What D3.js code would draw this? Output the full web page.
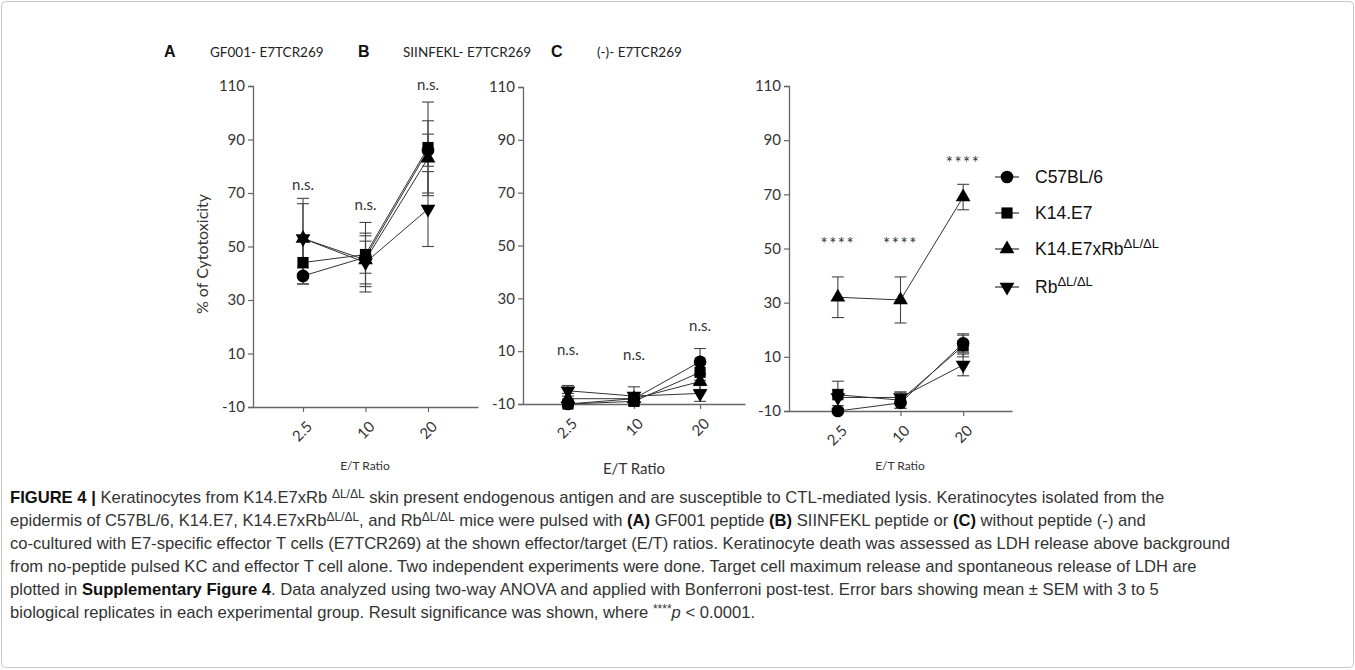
<!DOCTYPE html>
<html>
<head>
  <meta charset="UTF-8">
  <style>
    body { margin: 0; background: #fff; }
    svg { display: block; }
    .tick text { font-family: Lato, "Open Sans", sans-serif; font-size: 15px; fill: #333; }
    .cap { font-family: "Liberation Sans", Arial, sans-serif; font-size: 16.6px; fill: #333; }
  </style>
</head>
<body>
<svg></svg>
<script src="https://cdnjs.cloudflare.com/ajax/libs/d3/7.8.5/d3.min.js"></script>
<script>

    let width = 1355;
    let height = 670;

    // x categories and groups
    let ratios = ["2.5", "10", "20"];
    let groups = ["C57BL/6", "K14.E7", "K14.E7xRb", "Rb"];
    let yTicks = [-10, 10, 30, 50, 70, 90, 110];

    // rows follow groups order, columns follow ratios
    let meanA = [[39, 46, 86], [44, 47, 87], [53, 45, 83], [53, 44, 64]];
    let semA  = [[3, 6, 6], [8, 12, 17], [15, 9, 14], [13, 11, 14]];
    let meanB = [[-10, -8, 6], [-10, -9, 2], [-8, -8, -1.5], [-5, -7, -6]];
    let semB  = [[1, 2, 5], [1, 1.5, 3], [2, 2, 3], [2, 3.5, 3]];
    let meanC = [[-10, -7, 15], [-4, -6, 14], [32, 31, 69], [-5, -5, 7]];
    let semC  = [[1, 2, 3.5], [5, 3, 4], [7.5, 8.5, 4.7], [3, 2, 4]];

    // significance marks per ratio (value = where the text sits)
    let sigA = ["n.s.", "n.s.", "n.s."], sigAy = [73, 65.5, 110.5];
    let sigB = ["n.s.", "n.s.", "n.s."], sigBy = [10.5, 8.5, 19.5];
    let sigC = ["****", "****", "****"], sigCy = [51.5, 51.5, 81.5];

    let svg = d3.select("svg")
        .attr("width", width)
        .attr("height", height);

    // frame round the figure
    svg.append("rect")
        .attr("x", 1.5).attr("y", 1.5)
        .attr("width", width - 3).attr("height", height - 4)
        .attr("rx", 4)
        .attr("fill", "none")
        .attr("stroke", "#c8c8c8");

    let symbols = [
      d3.symbol().type(d3.symbolCircle).size(125)(),
      d3.symbol().type(d3.symbolSquare).size(125)(),
      d3.symbol().type(d3.symbolTriangle).size(95)(),
      d3.symbol().type(d3.symbolTriangle).size(95)()
    ];
    let rot = [0, 0, 0, 180];

    let panels = [
      {letter: "A", title: "GF001- E7TCR269", lx: 164, tx: 210, x0: 253, x1: 478, y0: 86, y1: 407, pad: 0.8,
       mean: meanA, sem: semA, sig: sigA, sigy: sigAy, etx: 365, ety: 470, etSize: 12, sigSize: 15, sigSpace: 0},
      {letter: "B", title: "SIINFEKL- E7TCR269", lx: 358, tx: 403, x0: 523, x1: 745, y0: 87, y1: 404, pad: 0.68,
       mean: meanB, sem: semB, sig: sigB, sigy: sigBy, etx: 634, ety: 474, etSize: 15, sigSize: 15, sigSpace: 0},
      {letter: "C", title: "(-)- E7TCR269", lx: 551, tx: 597, x0: 789, x1: 1012, y0: 86, y1: 411, pad: 0.78,
       mean: meanC, sem: semC, sig: sigC, sigy: sigCy, etx: 900, ety: 470, etSize: 12, sigSize: 17, sigSpace: 1.5}
    ];

    panels.forEach(p => {
      let x = d3.scalePoint().domain(ratios).range([p.x0, p.x1]).padding(p.pad);
      let y = d3.scaleLinear().domain([-10, 110]).range([p.y1, p.y0]);
      let g = svg.append("g");

      // panel heading
      g.append("text").attr("x", p.lx).attr("y", 57)
        .style("font-family", "'Liberation Sans', Arial, sans-serif")
        .style("font-weight", "bold").style("font-size", "16px").style("fill", "#111")
        .text(p.letter);
      g.append("text").attr("x", p.tx).attr("y", 57)
        .style("font-family", "Lato, sans-serif").style("font-size", "13.5px").style("fill", "#222")
        .text(p.title);

      // axes
      let ya = g.append("g").attr("transform", "translate(" + p.x0 + ",0)")
        .call(d3.axisLeft(y).tickValues(yTicks).tickSize(5).tickPadding(3).tickFormat(d => String(d)));
      let xa = g.append("g").attr("transform", "translate(0," + p.y1 + ")")
        .call(d3.axisBottom(x).tickSize(5).tickSizeOuter(0));
      [ya, xa].forEach(a => {
        a.select(".domain").attr("stroke", "#666").attr("stroke-width", 1.3);
        a.selectAll(".tick line").attr("stroke", "#666").attr("stroke-width", 1.2);
      });
      xa.selectAll(".tick text")
        .attr("text-anchor", "end")
        .attr("dy", "0.35em")
        .attr("transform", "translate(6,17) rotate(-45)")
        .attr("y", 0);

      g.append("text").attr("x", p.etx).attr("y", p.ety)
        .attr("text-anchor", "middle")
        .style("font-family", "Lato, sans-serif").style("font-size", p.etSize + "px").style("fill", "#333")
        .text("E/T Ratio");

      // connecting lines
      let line = d3.line().x((d, i) => x(ratios[i])).y(d => y(d));
      g.selectAll("path.ser").data(p.mean).enter().append("path")
        .attr("class", "ser")
        .attr("d", d => line(d))
        .attr("fill", "none").attr("stroke", "#333").attr("stroke-width", 1);

      // error bars
      p.mean.forEach((row, s) => {
        row.forEach((m, i) => {
          let cx = x(ratios[i]);
          let e = p.sem[s][i];
          let eb = g.append("g").attr("stroke", "#444").attr("stroke-width", 1.1);
          eb.append("line").attr("x1", cx).attr("x2", cx).attr("y1", y(m - e)).attr("y2", y(m + e));
          eb.append("line").attr("x1", cx - 6).attr("x2", cx + 6).attr("y1", y(m + e)).attr("y2", y(m + e));
          eb.append("line").attr("x1", cx - 6).attr("x2", cx + 6).attr("y1", y(m - e)).attr("y2", y(m - e));
        });
      });

      // markers
      p.mean.forEach((row, s) => {
        g.selectAll("path.m" + s).data(row).enter().append("path")
          .attr("class", "m" + s)
          .attr("d", symbols[s])
          .attr("transform", (d, i) => "translate(" + x(ratios[i]) + "," + y(d) + ") rotate(" + rot[s] + ")")
          .attr("fill", "#000");
      });

      // significance
      g.selectAll("text.sig").data(p.sig).enter().append("text")
        .attr("class", "sig")
        .attr("x", (d, i) => x(ratios[i]))
        .attr("y", (d, i) => y(p.sigy[i]))
        .attr("dy", "0.35em")
        .attr("text-anchor", "middle")
        .style("font-family", "Lato, sans-serif").style("font-size", p.sigSize + "px")
        .style("letter-spacing", p.sigSpace + "px").style("fill", "#333")
        .text(d => d);
    });

    // y label (panel A only)
    svg.append("text")
      .attr("transform", "translate(208,254) rotate(-90)")
      .attr("text-anchor", "middle")
      .style("font-family", "Lato, sans-serif").style("font-size", "16px").style("fill", "#333")
      .text("% of Cytotoxicity");

    // legend
    let legY = [177, 213, 249, 287];
    let leg = svg.append("g");
    groups.forEach((name, s) => {
      let gy = legY[s];
      leg.append("line").attr("x1", 995).attr("x2", 1019).attr("y1", gy).attr("y2", gy)
        .attr("stroke", "#333").attr("stroke-width", 1.2);
      leg.append("path").attr("d", symbols[s])
        .attr("transform", "translate(1007," + gy + ") rotate(" + rot[s] + ")").attr("fill", "#000");
      let t = leg.append("text").attr("x", 1035).attr("y", gy).attr("dy", "0.35em")
        .style("font-family", "'Liberation Sans', Arial, sans-serif").style("font-size", "17.5px").style("fill", "#111");
      t.append("tspan").text(name);
      if (s >= 2) {
        t.append("tspan").attr("dy", "-0.55em").style("font-size", "13px").text("\u0394L/\u0394L");
      }
    });

    // caption
    let capLines = [
      [["FIGURE 4 | ", "b"], ["Keratinocytes from K14.E7xRb ", ""], ["\u0394L/\u0394L", "sup"], [" skin present endogenous antigen and are susceptible to CTL-mediated lysis. Keratinocytes isolated from the", ""]],
      [["epidermis of C57BL/6, K14.E7, K14.E7xRb", ""], ["\u0394L/\u0394L", "sup"], [", and Rb", ""], ["\u0394L/\u0394L", "sup"], [" mice were pulsed with ", ""], ["(A)", "b"], [" GF001 peptide ", ""], ["(B)", "b"], [" SIINFEKL peptide or ", ""], ["(C)", "b"], [" without peptide (-) and", ""]],
      [["co-cultured with E7-specific effector T cells (E7TCR269) at the shown effector/target (E/T) ratios. Keratinocyte death was assessed as LDH release above background", ""]],
      [["from no-peptide pulsed KC and effector T cell alone. Two independent experiments were done. Target cell maximum release and spontaneous release of LDH are", ""]],
      [["plotted in ", ""], ["Supplementary Figure 4", "b"], [". Data analyzed using two-way ANOVA and applied with Bonferroni post-test. Error bars showing mean \u00b1 SEM with 3 to 5", ""]],
      [["biological replicates in each experimental group. Result significance was shown, where ", ""], ["****", "sup"], ["p", "i"], [" < 0.0001.", ""]]
    ];
    let capY = [503, 526, 549, 572, 595, 618];
    capLines.forEach((segs, li) => {
      let t = svg.append("text").attr("class", "cap").attr("x", 10).attr("y", capY[li]);
      segs.forEach(sg => {
        let ts = t.append("tspan").text(sg[0]);
        if (sg[1] === "b") ts.style("font-weight", "bold").style("fill", "#111");
        if (sg[1] === "i") ts.style("font-style", "italic");
        if (sg[1] === "sup") ts.style("font-size", "12px").attr("baseline-shift", "45%");
      });
    });

</script>
</body>
</html>
